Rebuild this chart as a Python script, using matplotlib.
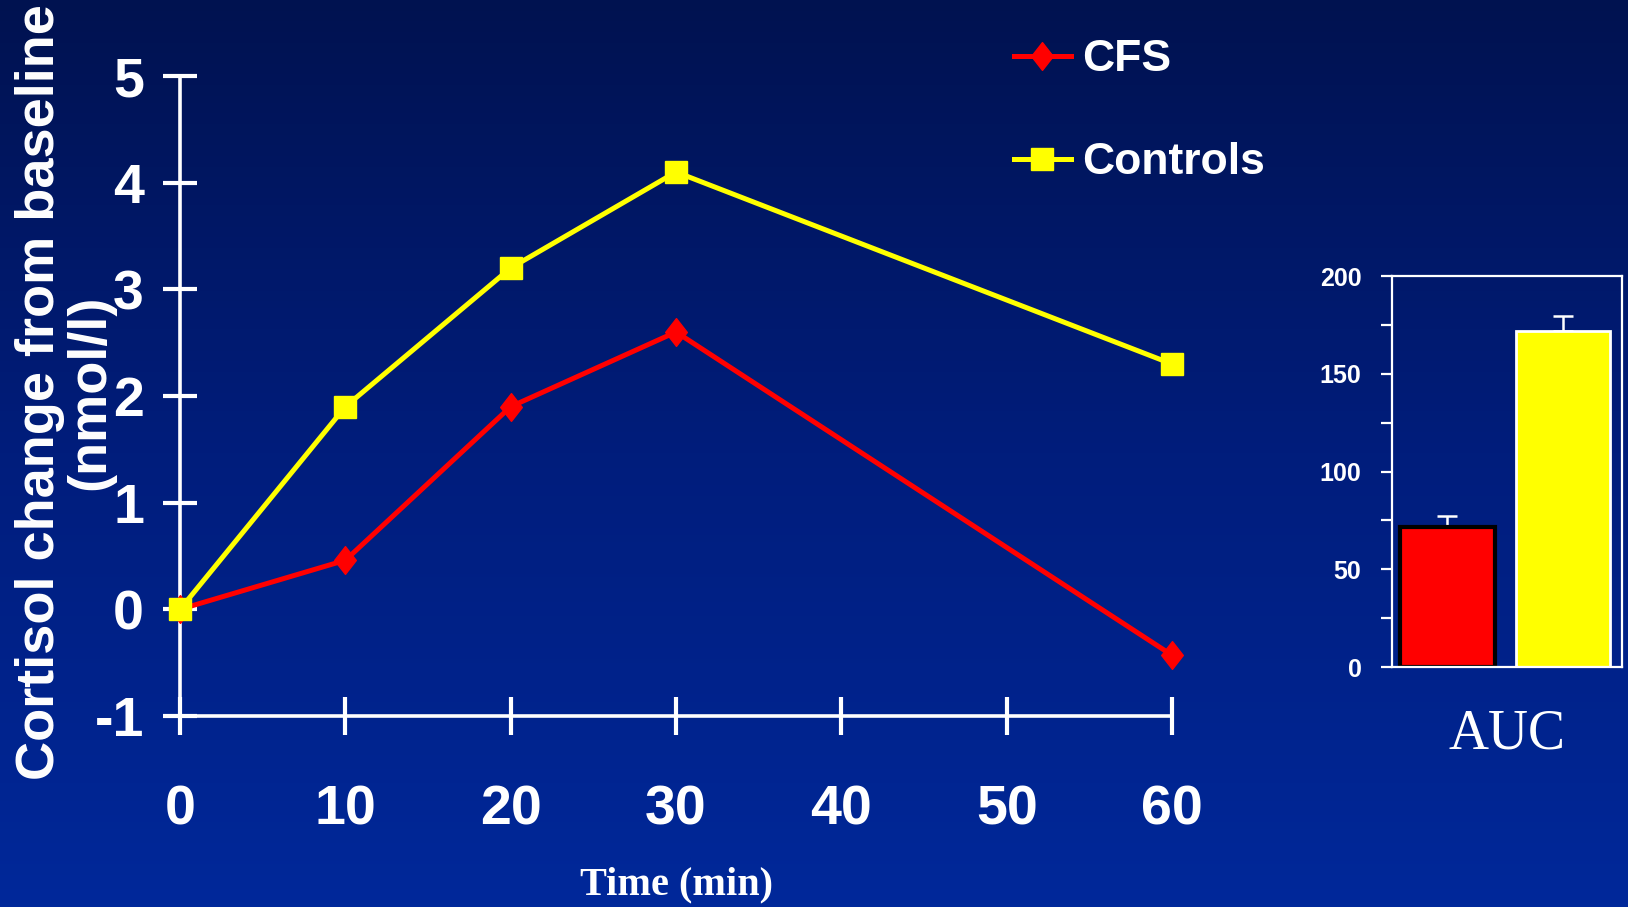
import numpy as np
import matplotlib.pyplot as plt
from matplotlib.path import Path
from matplotlib.colors import LinearSegmentedColormap

# data
time_min = [0, 10, 20, 30, 60]
cfs = [0.0, 0.46, 1.9, 2.6, -0.43]
controls = [0.0, 1.9, 3.2, 4.1, 2.3]
x_ticks = [0, 10, 20, 30, 40, 50, 60]
y_ticks = [-1, 0, 1, 2, 3, 4, 5]

auc_groups = ['CFS', 'Controls']
auc_values = [71.5, 172.0]
auc_err = [5.5, 7.5]

sans = ['Liberation Sans', 'DejaVu Sans']
serif = ['Liberation Serif', 'DejaVu Serif']
plt.rcParams['font.family'] = sans
plt.rcParams['axes.unicode_minus'] = False

fig = plt.figure(figsize=(16.28, 9.07), dpi=100)

# background gradient, dark navy on top to brighter blue at the bottom
bg = fig.add_axes([0, 0, 1, 1], zorder=-10)
cmap = LinearSegmentedColormap.from_list('slide', ['#001250', '#001d7c', '#00289a'])
bg.imshow(np.linspace(0, 1, 256).reshape(-1, 1), aspect='auto', cmap=cmap, extent=[0, 1, 0, 1])
bg.set_axis_off()

# tall diamond marker
diamond = Path([(0, 1), (0.78, 0), (0, -1), (-0.78, 0), (0, 1)],
               [Path.MOVETO, Path.LINETO, Path.LINETO, Path.LINETO, Path.CLOSEPOLY])

ax = fig.add_axes([0.1106, 0.2106, 0.6093, 0.7056])
ax.set_facecolor('none')
ax.plot(time_min, cfs, color='#ff0000', lw=3.6, marker=diamond, ms=20,
        mec='#ff0000', mfc='#ff0000', clip_on=False, zorder=3, label='CFS')
ax.plot(time_min, controls, color='#ffff00', lw=3.6, marker='s', ms=16,
        mec='#ffff00', mfc='#ffff00', clip_on=False, zorder=4, label='Controls')
ax.set_xlim(0, 60)
ax.set_ylim(-1, 5)
for s in ['top', 'right']:
    ax.spines[s].set_visible(False)
for s in ['left', 'bottom']:
    ax.spines[s].set_color('white')
    ax.spines[s].set_linewidth(2.6)
ax.set_xticks(x_ticks)
ax.set_yticks(y_ticks)
ax.tick_params(axis='y', direction='inout', length=24, width=3, colors='white', pad=14)
ax.tick_params(axis='x', direction='inout', length=28, width=3, colors='white', pad=35)
for lab in ax.get_xticklabels() + ax.get_yticklabels():
    lab.set_fontweight('bold')
    lab.set_fontsize(40)
    lab.set_color('white')

leg = ax.legend(loc='upper left', bbox_to_anchor=(0.8, 1.12), frameon=False,
                handlelength=1.3, handletextpad=0.25, labelspacing=1.4,
                prop={'weight': 'bold', 'size': 32})
for t in leg.get_texts():
    t.set_color('white')

fig.text(0.4153, 0.024, 'Time (min)', family=serif,
         fontweight='bold', fontsize=29, color='white', ha='center', va='center')
fig.text(0.040, 0.568, 'Cortisol change from baseline\n(nmol/l)', rotation=90,
         fontweight='bold', fontsize=39, color='white',
         ha='center', va='center', multialignment='center', linespacing=1.02)

# AUC inset
bx = fig.add_axes([0.855, 0.2646, 0.1413, 0.4311])
bx.set_facecolor('none')
bx.bar([0, 1], auc_values, width=0.82, color=['#ff0000', '#ffff00'],
       edgecolor=['black', 'white'], linewidth=[3, 2], zorder=2)
bx.errorbar([0, 1], auc_values, yerr=[[0, 0], auc_err], fmt='none',
            ecolor='white', elinewidth=1.8, capsize=7.5, capthick=1.8, zorder=1)
bx.set_xlim(-0.48, 1.51)
bx.set_ylim(0, 200)
bx.set_xticks([])
bx.set_yticks([0, 50, 100, 150, 200])
bx.set_yticks([25, 75, 125, 175], minor=True)
for s in bx.spines.values():
    s.set_color('white')
    s.set_linewidth(1.6)
bx.tick_params(axis='y', which='both', direction='out', length=8, width=1.6,
               colors='white', pad=14)
for lab in bx.get_yticklabels():
    lab.set_fontweight('bold')
    lab.set_fontsize(18)
bx.set_xlabel('AUC', family=serif, fontsize=40, color='white', labelpad=30)

fig.savefig('out.png', dpi=100)
